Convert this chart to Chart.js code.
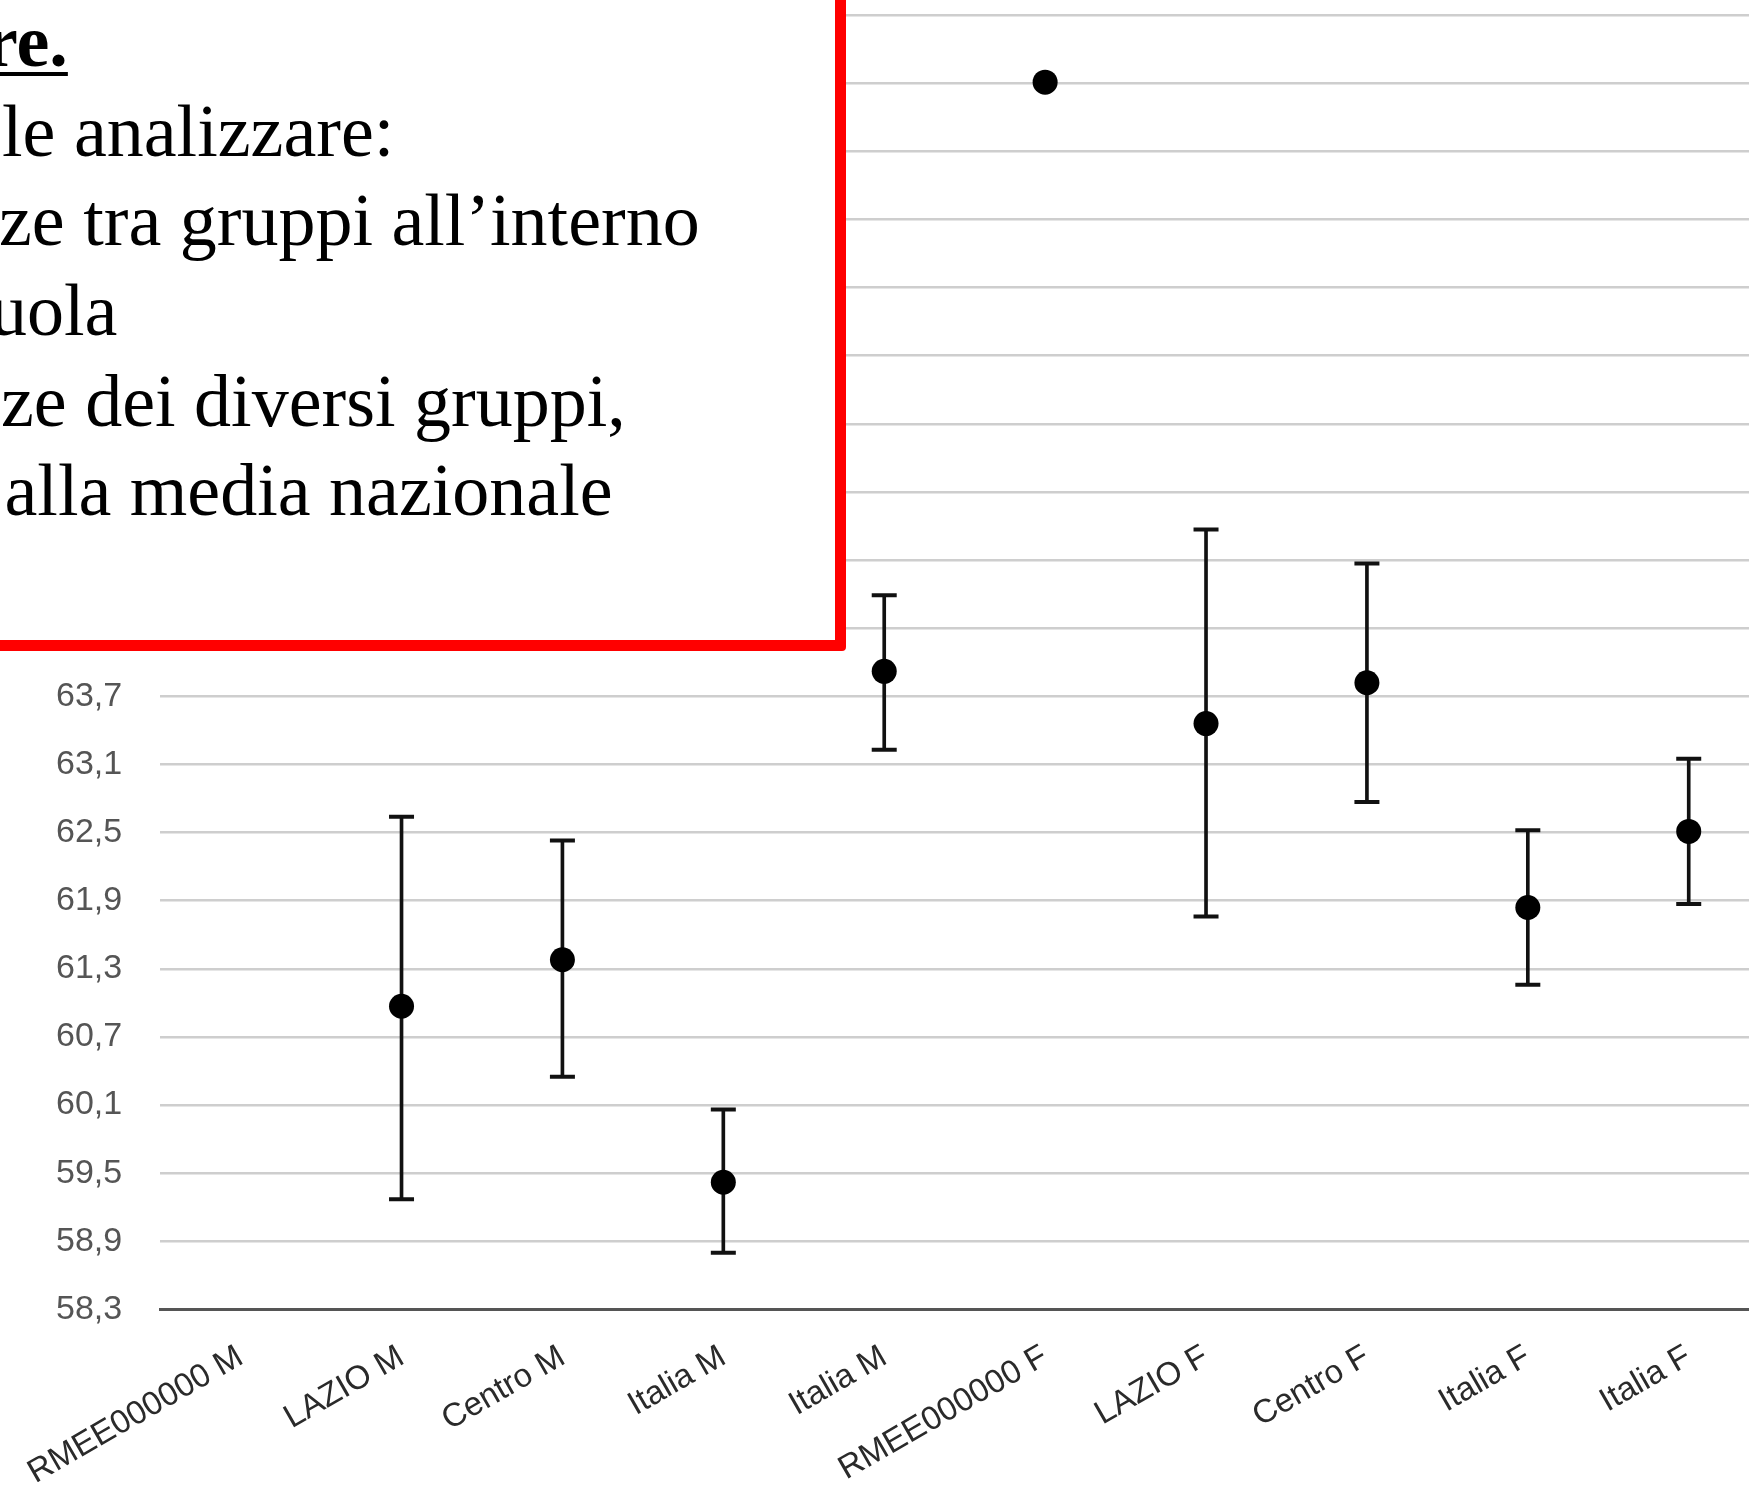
<!DOCTYPE html>
<html>
<head>
<meta charset="utf-8">
<script src="https://cdn.jsdelivr.net/npm/chart.js@4.4.1/dist/chart.umd.min.js"></script>
<style>
  html, body { margin: 0; padding: 0; background: #fff; overflow: hidden; width: 1749px; height: 1488px; }
  #wrap { position: absolute; left: 0; top: 0; }
  #note {
    position: absolute; left: -20px; top: -20px; width: 866px; height: 671px;
    box-sizing: border-box; border: 11px solid #ff0000; border-radius: 4px;
    background: #fff; overflow: hidden;
  }
  .ln {
    position: absolute; white-space: pre; font-family: "Liberation Serif", "Times New Roman", serif;
    font-size: 74px; line-height: 74px; color: #000;
  }
  .hd { font-weight: bold; text-decoration: underline; text-decoration-thickness: 4px; text-underline-offset: 6px; }
</style>
</head>
<body>
<div id="wrap"><canvas id="chart" width="1840" height="1540"></canvas></div>
<div id="note">
  <div class="ln hd" style="left:-6px; top:13px;">re.</div>
  <div class="ln" style="left:11px; top:103px;">le analizzare:</div>
  <div class="ln" style="left:8px; top:192px;">ze tra gruppi all’interno</div>
  <div class="ln" style="left:-1px; top:282px;">uola</div>
  <div class="ln" style="left:10px; top:373px;">ze dei diversi gruppi,</div>
  <div class="ln" style="left:-5px; top:462px;"> alla media nazionale</div>
</div>
<script>
// categories and values
const categories = ['RMEE000000 M', 'LAZIO M', 'Centro M', 'Italia M', 'Italia M',
                    'RMEE000000 F', 'LAZIO F', 'Centro F', 'Italia F', 'Italia F'];
const means = [null, 60.97, 61.38, 59.42, 63.92, 69.11, 63.46, 63.82, 61.84, 62.51];
const upper = [null, 62.64, 62.43, 60.06, 64.59, null, 65.17, 64.87, 62.52, 63.15];
const lower = [null, 59.27, 60.35, 58.80, 63.23, null, 61.76, 62.77, 61.16, 61.87];
const yTicks = [58.3, 58.9, 59.5, 60.1, 60.7, 61.3, 61.9, 62.5, 63.1, 63.7,
                64.3, 64.9, 65.5, 66.1, 66.7, 67.3, 67.9, 68.5, 69.1, 69.7];
const yMin = 58.3;
const yMax = 69.83;

const wrap = document.getElementById('wrap');
const ctx = document.getElementById('chart').getContext('2d');

const chart = new Chart(ctx, {
    data: {
        labels: categories,
        datasets: [
            {
                type: 'bar',
                data: lower.map((lo, i) => (lo === null ? null : [lo, upper[i]])),
                backgroundColor: '#111',
                barThickness: 3,
                order: 3
            },
            {
                type: 'line',
                data: upper,
                showLine: false,
                pointStyle: 'line',
                pointRadius: 12.5,
                pointBorderWidth: 4,
                pointBorderColor: '#111',
                order: 2
            },
            {
                type: 'line',
                data: lower,
                showLine: false,
                pointStyle: 'line',
                pointRadius: 12.5,
                pointBorderWidth: 4,
                pointBorderColor: '#111',
                order: 2
            },
            {
                type: 'line',
                data: means,
                showLine: false,
                pointStyle: 'circle',
                pointRadius: 12.5,
                pointBorderWidth: 0,
                pointBackgroundColor: '#000',
                order: 1
            }
        ]
    },
    options: {
        responsive: false,
        animation: false,
        devicePixelRatio: 1,
        layout: { padding: { left: 40, right: 30, top: 0, bottom: 10 } },
        plugins: { legend: { display: false }, tooltip: { enabled: false } },
        scales: {
            x: {
                offset: true,
                grid: { display: false, drawTicks: false },
                border: { display: true, color: '#555', width: 3 },
                ticks: {
                    autoSkip: false,
                    maxRotation: 30,
                    minRotation: 30,
                    padding: 28,
                    color: '#2a2a2a',
                    font: { family: 'Liberation Sans', size: 33 }
                }
            },
            y: {
                min: yMin,
                max: yMax,
                afterBuildTicks: (scale) => {
                    scale.ticks = yTicks.map(v => ({ value: v }));
                },
                grid: {
                    drawTicks: false,
                    lineWidth: 2.5,
                    color: (c) => (c.index === 0 ? 'rgba(0,0,0,0)' : '#cecece')
                },
                border: { display: false },
                ticks: {
                    padding: 38,
                    color: '#555',
                    font: { family: 'Liberation Sans', size: 34 },
                    callback: (v) => Number(v).toFixed(1).replace('.', ',')
                }
            }
        }
    }
});

// size the plot area like the picture (1609 x 1309) and put its corner at (160, 0)
const pad = chart.options.layout.padding;
let area = chart.chartArea;
for (let i = 0; i < 4; i++) {
    pad.right += (area.right - area.left) - 1609;
    pad.bottom += (area.bottom - area.top) - 1309;
    chart.update();
    area = chart.chartArea;
}
wrap.style.left = (160 - area.left) + 'px';
wrap.style.top = (-area.top) + 'px';
</script>
</body>
</html>
